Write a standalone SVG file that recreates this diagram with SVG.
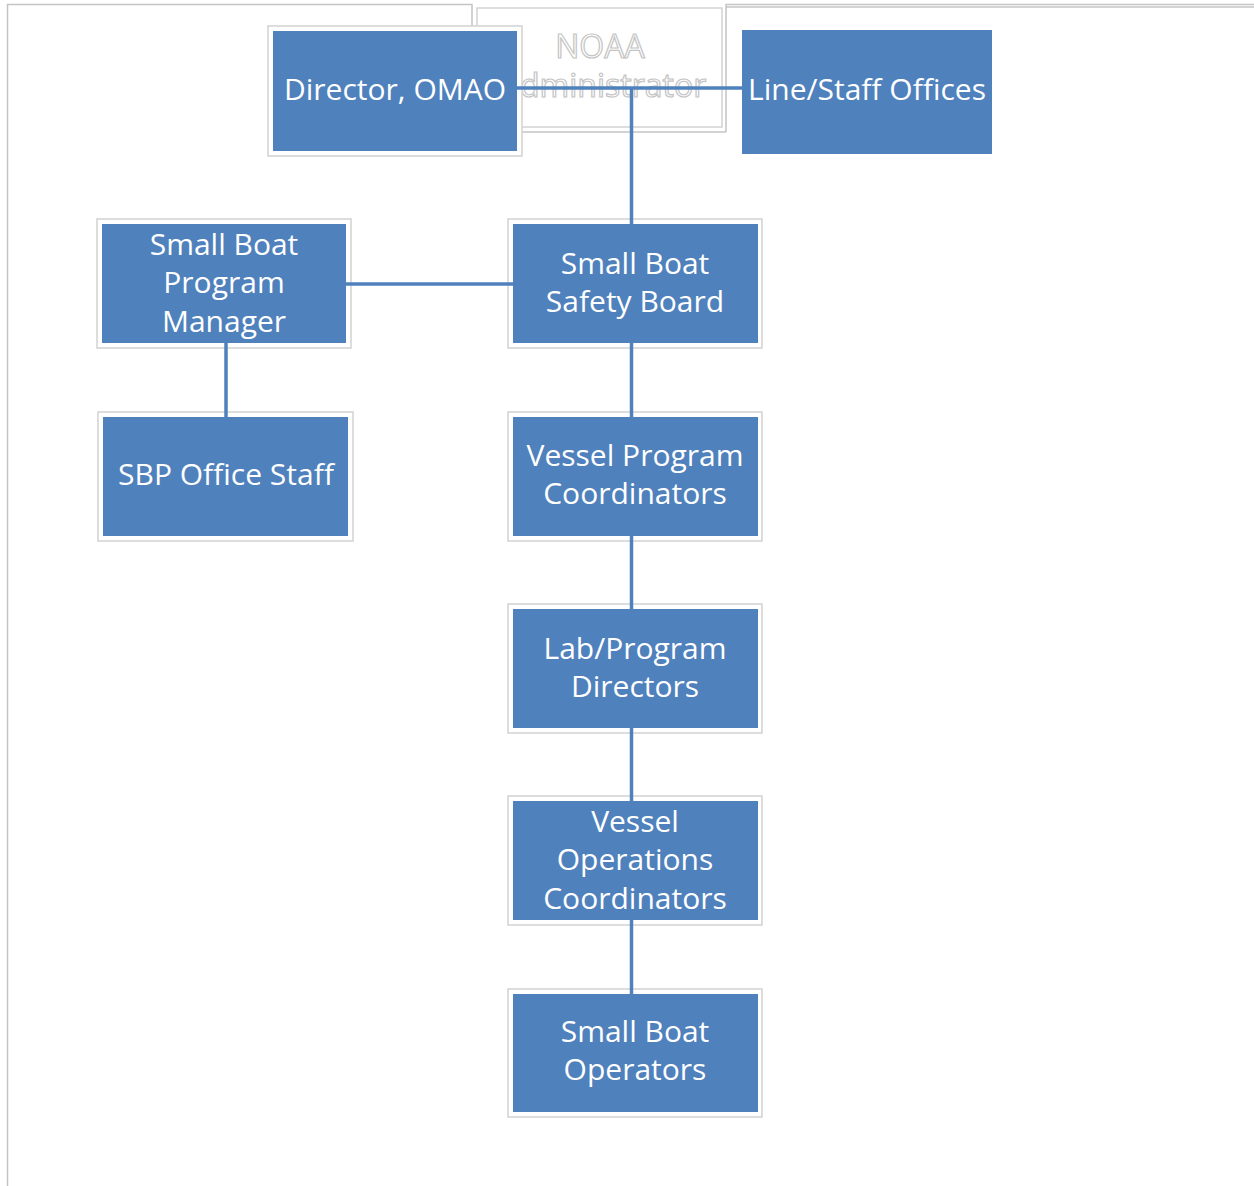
<svg xmlns="http://www.w3.org/2000/svg" width="1254" height="1186" viewBox="0 0 1254 1186">
<style>
.frame{fill:#ffffff;stroke:#d2d2d2;stroke-width:1.5}
.box{fill:#4f81bd}
.lbl{font-family:"Open Sans","Liberation Sans",sans-serif;font-size:30px;fill:#ffffff;text-anchor:middle}
.ghost{font-family:"Open Sans","Liberation Sans",sans-serif;font-size:32px;fill:#ffffff;stroke:#c4c4c4;stroke-width:1.2;text-anchor:middle}
.page{fill:none;stroke:#c4c4c4;stroke-width:1.5}
.conn{fill:none;stroke:#4f81bd;stroke-width:3.5}
</style>
<rect x="0" y="0" width="1254" height="1186" fill="#ffffff"/>
<g id="page-frame">
<polyline class="page" points="472,132 472,4.5 7.5,4.5 7.5,1186"/>
<polyline class="page" points="726,132 726,4.5 1254,4.5"/>
<line class="page" x1="726" y1="7" x2="1254" y2="7" stroke-width="1"/>
<line class="page" x1="472" y1="132" x2="726" y2="132"/>
</g>
<g id="noaa-administrator">
<rect class="frame" x="477" y="8" width="245" height="119"/>
<text class="ghost" x="600" y="58">NOAA</text>
<text class="ghost" x="603" y="97">Administrator</text>
</g>
<g id="director-omao">
<rect class="frame" x="268" y="26" width="254" height="130"/>
<rect class="box" x="273" y="31" width="244" height="120"/>
<text class="lbl" x="395" y="100">Director, OMAO</text>
</g>
<g id="line-staff-offices">
<rect class="box" x="742" y="30" width="250" height="124"/>
<text class="lbl" x="867" y="100">Line/Staff Offices</text>
</g>
<g id="sb-program-manager">
<rect class="frame" x="97" y="219" width="254" height="129"/>
<rect class="box" x="102" y="224" width="244" height="119"/>
<text class="lbl" x="224" y="255">Small Boat</text>
<text class="lbl" x="224" y="293">Program</text>
<text class="lbl" x="224" y="332">Manager</text>
</g>
<g id="sbp-office-staff">
<rect class="frame" x="98" y="412" width="255" height="129"/>
<rect class="box" x="103" y="417" width="245" height="119"/>
<text class="lbl" x="226" y="485">SBP Office Staff</text>
</g>
<g id="sb-safety-board">
<rect class="frame" x="508" y="219" width="254" height="129"/>
<rect class="box" x="513" y="224" width="245" height="119"/>
<text class="lbl" x="635" y="274">Small Boat</text>
<text class="lbl" x="635" y="312">Safety Board</text>
</g>
<g id="vessel-program-coordinators">
<rect class="frame" x="508" y="412" width="254" height="129"/>
<rect class="box" x="513" y="417" width="245" height="119"/>
<text class="lbl" x="635" y="466">Vessel Program</text>
<text class="lbl" x="635" y="504">Coordinators</text>
</g>
<g id="lab-program-directors">
<rect class="frame" x="508" y="604" width="254" height="129"/>
<rect class="box" x="513" y="609" width="245" height="119"/>
<text class="lbl" x="635" y="659">Lab/Program</text>
<text class="lbl" x="635" y="697">Directors</text>
</g>
<g id="vessel-operations-coordinators">
<rect class="frame" x="508" y="796" width="254" height="129"/>
<rect class="box" x="513" y="801" width="245" height="119"/>
<text class="lbl" x="635" y="832">Vessel</text>
<text class="lbl" x="635" y="870">Operations</text>
<text class="lbl" x="635" y="909">Coordinators</text>
</g>
<g id="sb-operators">
<rect class="frame" x="508" y="989" width="254" height="128"/>
<rect class="box" x="513" y="994" width="245" height="118"/>
<text class="lbl" x="635" y="1042">Small Boat</text>
<text class="lbl" x="635" y="1080">Operators</text>
</g>
<g id="connectors">
<line class="conn" x1="517" y1="88" x2="742" y2="88"/>
<line class="conn" x1="631.5" y1="88" x2="631.5" y2="224"/>
<line class="conn" x1="346" y1="284" x2="527" y2="284"/>
<line class="conn" x1="226" y1="343" x2="226" y2="417"/>
<line class="conn" x1="631.5" y1="343" x2="631.5" y2="419"/>
<line class="conn" x1="631.5" y1="536" x2="631.5" y2="609"/>
<line class="conn" x1="631.5" y1="728" x2="631.5" y2="801"/>
<line class="conn" x1="631.5" y1="914" x2="631.5" y2="994"/>
</g>
</svg>
